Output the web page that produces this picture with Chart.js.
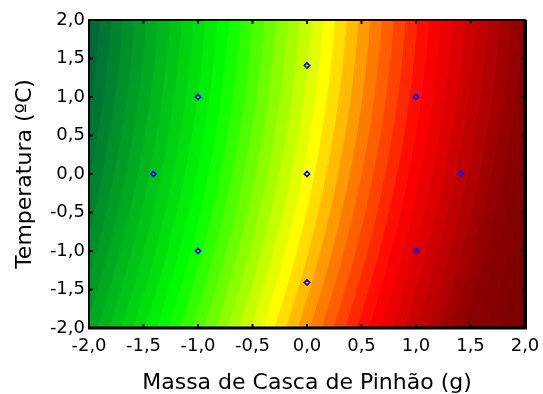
<!DOCTYPE html>
<html><head><meta charset="utf-8">
<script src="https://cdn.jsdelivr.net/npm/chart.js@4"></script>
<style>html,body{margin:0;padding:0;background:#fff}#wrap{width:543px;height:394px}</style>
</head><body><div id="wrap"><canvas id="c" width="543" height="394"></canvas></div>
<script>
// ---- data ----
const xTickValues = [-2, -1.5, -1, -0.5, 0, 0.5, 1, 1.5, 2];
const yTickValues = [-2, -1.5, -1, -0.5, 0, 0.5, 1, 1.5, 2];
const designX = [-1, 1, -1, 1, -1.41, 1.41, 0, 0, 0];
const designY = [-1, -1, 1, 1, 0, 0, -1.41, 1.41, 0];
// contour levels of the fitted surface  f = x + coefY*y + coefYY*y^2
const contourLevels = [-2.312, -2.204, -2.096, -1.988, -1.880, -1.772, -1.664, -1.556, -1.448, -1.340,
  -1.232, -1.124, -1.016, -0.908, -0.800, -0.692, -0.584, -0.476, -0.368, -0.260, -0.152, -0.044,
  0.064, 0.172, 0.280, 0.388, 0.496, 0.604, 0.712, 0.820, 0.928, 1.036, 1.144, 1.252, 1.360, 1.468,
  1.576, 1.684, 1.792, 1.900, 2.008, 2.116, 2.224, 2.332, 2.440];
const surfaceCoefY = -0.139;
const surfaceCoefYY = 0.0225;
const xTitle = 'Massa de Casca de Pinhão (g)';
const yTitle = 'Temperatura (ºC)';

// ---- colour scale (style) ----
const colorStops = [
  [-2.25, [0, 92, 62]],
  [-0.92, [0, 255, 0]],
  [0.01, [255, 255, 0]],
  [0.42, [255, 128, 0]],
  [0.93, [255, 0, 0]],
  [1.80, [140, 0, 0]],
  [2.45, [118, 0, 0]]
];
function cmap(v) {
  if (v <= colorStops[0][0]) return 'rgb(' + colorStops[0][1].join(',') + ')';
  for (let i = 1; i < colorStops.length; i++) {
    const [v1, c1] = colorStops[i];
    const [v0, c0] = colorStops[i - 1];
    if (v <= v1) {
      const t = (v - v0) / (v1 - v0);
      const c = c0.map((a, k) => Math.round(a + (c1[k] - a) * t));
      return 'rgb(' + c.join(',') + ')';
    }
  }
  return 'rgb(' + colorStops[colorStops.length - 1][1].join(',') + ')';
}
// contour curve x for a level at height y
function contourX(level, y) { return level - surfaceCoefY * y - surfaceCoefYY * y * y; }
const ySamples = [];
for (let k = 0; k <= 22; k++) ySamples.push(-2.2 + k * 0.2);

const bandDatasets = [];
for (let i = 0; i < contourLevels.length - 1; i++) {
  const lo = contourLevels[i], hi = contourLevels[i + 1];
  const pts = [];
  ySamples.forEach(y => pts.push({x: contourX(lo, y), y}));
  ySamples.slice().reverse().forEach(y => pts.push({x: contourX(hi, y), y}));
  pts.push(pts[0]);
  const col = cmap((lo + hi) / 2);
  bandDatasets.push({
    data: pts, showLine: true, fill: 'shape', backgroundColor: col, borderColor: col,
    borderWidth: 1, pointRadius: 0, pointHoverRadius: 0, tension: 0, order: 2
  });
}

const pointsDataset = {
  data: designX.map((x, i) => ({x, y: designY[i]})),
  pointStyle: 'rectRot', pointRadius: 2.6, borderColor: '#0000ff', backgroundColor: 'rgba(0,0,0,0)',
  borderWidth: 1.6, showLine: false, order: 0
};

const fmt = v => v.toFixed(1).replace('.', ',');

const framePlugin = {
  id: 'frame',
  afterDatasetsDraw(chart) {
    const {ctx, chartArea: a, scales: {x, y}} = chart;
    ctx.save();
    ctx.strokeStyle = '#000';
    ctx.lineWidth = 2;
    ctx.beginPath();
    xTickValues.forEach(v => {
      const px = x.getPixelForValue(v);
      ctx.moveTo(px, a.top); ctx.lineTo(px, a.top + 4);
      ctx.moveTo(px, a.bottom); ctx.lineTo(px, a.bottom - 4);
    });
    yTickValues.forEach(v => {
      const py = y.getPixelForValue(v);
      ctx.moveTo(a.left, py); ctx.lineTo(a.left + 4, py);
      ctx.moveTo(a.right, py); ctx.lineTo(a.right - 4, py);
    });
    ctx.stroke();
    ctx.strokeRect(a.left, a.top, a.right - a.left, a.bottom - a.top);
    ctx.lineWidth = 4;
    ctx.beginPath(); ctx.moveTo(a.right, a.top); ctx.lineTo(a.right, a.bottom + 1); ctx.stroke();
    ctx.lineWidth = 3;
    ctx.beginPath(); ctx.moveTo(a.left - 1, a.bottom); ctx.lineTo(a.right + 2, a.bottom); ctx.stroke();
    ctx.restore();
  }
};

Chart.defaults.font.family = "'DejaVu Sans', sans-serif";
Chart.defaults.color = '#000';

new Chart(document.getElementById('c'), {
  type: 'scatter',
  data: {datasets: [pointsDataset, ...bandDatasets]},
  options: {
    responsive: false, animation: false, devicePixelRatio: 1,
    layout: {padding: {left: 0, right: 18, top: 20, bottom: 0}},
    plugins: {legend: {display: false}, tooltip: {enabled: false}},
    scales: {
      x: {
        type: 'linear', min: -2, max: 2,
        afterBuildTicks: s => { s.ticks = xTickValues.map(v => ({value: v})); },
        afterFit: s => { s.height = 66; s.paddingLeft = 0; s.paddingRight = 0; },
        grid: {display: false, drawTicks: false}, border: {display: false},
        ticks: {callback: v => fmt(v), padding: 8, font: {size: 18}, maxRotation: 0, autoSkip: false},
        title: {display: true, text: xTitle, font: {size: 22, lineHeight: 1}, padding: {top: 0, bottom: 0}}
      },
      y: {
        type: 'linear', min: -2, max: 2,
        afterBuildTicks: s => { s.ticks = yTickValues.map(v => ({value: v})); },
        afterFit: s => { s.width = 89; s.paddingTop = 0; s.paddingBottom = 0; },
        grid: {display: false, drawTicks: false}, border: {display: false},
        ticks: {callback: v => fmt(v), padding: 4, font: {size: 18}, autoSkip: false},
        title: {display: true, text: yTitle, font: {size: 22, lineHeight: 1}, padding: {top: 14, bottom: 0}}
      }
    }
  },
  plugins: [framePlugin]
});
</script></body></html>
